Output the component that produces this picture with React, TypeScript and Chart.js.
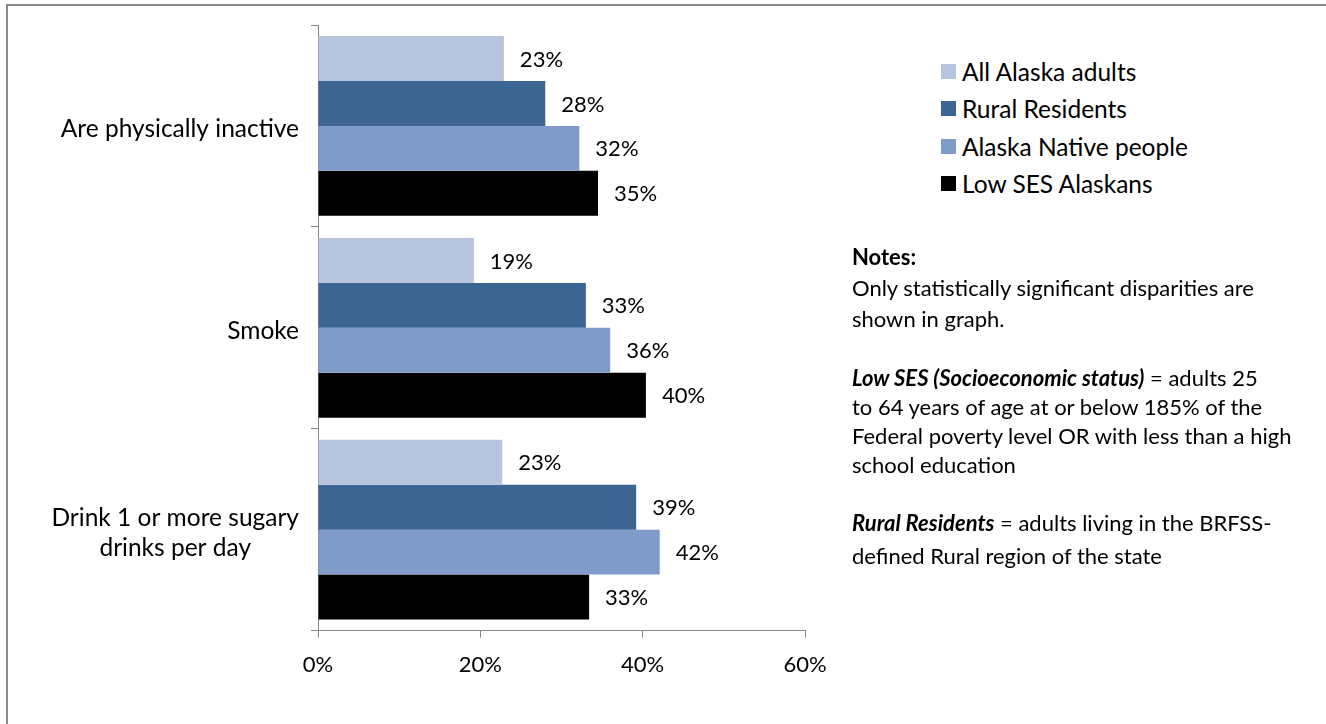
import React, { useEffect, useRef } from "react";
import { Chart, registerables } from "chart.js";

Chart.register(...registerables);

// ---------- data ----------
const categories: string[][] = [
  ["Are physically inactive"],
  ["Smoke"],
  ["Drink 1 or more sugary", "drinks per day"],
];
const seriesNames = [
  "All Alaska adults",
  "Rural Residents",
  "Alaska Native people",
  "Low SES Alaskans",
];
const allAlaskaAdults = [22.9, 19.2, 22.7];
const ruralResidents = [28.0, 33.0, 39.2];
const alaskaNative = [32.2, 36.0, 42.1];
const lowSesAlaskans = [34.5, 40.4, 33.4];
const seriesColors = ["#B7C4DF", "#3C6594", "#7F9CC8", "#000000"];
const xMin = 0;
const xMax = 60;
const xStep = 20;

type Seg = { t: string; b?: boolean; i?: boolean };
const noteLines: Seg[][] = [
  [{ t: "Notes:", b: true }],
  [{ t: "Only statistically significant disparities are" }],
  [{ t: "shown in graph." }],
  [{ t: "Low SES (Socioeconomic status)", b: true, i: true }, { t: " = adults 25" }],
  [{ t: "to 64 years of age at or below 185% of the" }],
  [{ t: "Federal poverty level OR with less than a high" }],
  [{ t: "school education" }],
  [{ t: "Rural Residents", b: true, i: true }, { t: " = adults living in the BRFSS-" }],
  [{ t: "defined Rural region of the state" }],
];

const FONT = "Lato, 'Open Sans', sans-serif";
const AXIS = "#868686";
const CAT_SIZE = 24.5;
const VAL_SIZE = 22;
const TICK_SIZE = 22;
const LEGEND_SIZE = 24.5;
const NOTE_SIZE = 22;

export default function App() {
  const canvasRef = useRef<HTMLCanvasElement | null>(null);

  useEffect(() => {
    const canvas = canvasRef.current;
    if (!canvas) return;
    const seriesData = [allAlaskaAdults, ruralResidents, alaskaNative, lowSesAlaskans];

    const valueLabels = {
      id: "valueLabels",
      afterDatasetsDraw(chart: any) {
        const ctx = chart.ctx;
        ctx.save();
        ctx.font = `${VAL_SIZE}px ${FONT}`;
        ctx.fillStyle = "#000";
        ctx.textAlign = "left";
        ctx.textBaseline = "middle";
        chart.data.datasets.forEach((ds: any, di: number) => {
          const meta = chart.getDatasetMeta(di);
          meta.data.forEach((el: any, i: number) => {
            const v = ds.data[i];
            ctx.fillText(Math.round(v) + "%", el.x + 16, el.y + 1);
          });
        });
        ctx.restore();
      },
    };

    const categoryLabels = {
      id: "categoryLabels",
      afterDraw(chart: any) {
        const ctx = chart.ctx;
        const yScale = chart.scales.y;
        const right = chart.chartArea.left - 19;
        const lh = 30;
        ctx.save();
        ctx.font = `${CAT_SIZE}px ${FONT}`;
        ctx.fillStyle = "#000";
        ctx.textAlign = "center";
        ctx.textBaseline = "middle";
        categories.forEach((lines, i) => {
          const y = yScale.getPixelForValue(i);
          const w = Math.max(...lines.map((l) => ctx.measureText(l).width));
          const cx = right - w / 2;
          lines.forEach((l, j) => {
            ctx.fillText(l, cx, y + (j - (lines.length - 1) / 2) * lh + 3);
          });
        });
        ctx.restore();
      },
    };

    const chart = new Chart(canvas, {
      type: "bar",
      data: {
        labels: categories.map((c) => c.join(" ")),
        datasets: seriesNames.map((name, i) => ({
          label: name,
          data: seriesData[i],
          backgroundColor: seriesColors[i],
          borderWidth: 0,
          categoryPercentage: 0.89,
          barPercentage: 1.0,
        })),
      },
      options: {
        indexAxis: "y",
        animation: false,
        responsive: false,
        maintainAspectRatio: false,
        layout: { padding: { left: 311, right: 95, top: 25, bottom: 32 } },
        plugins: {
          legend: { display: false },
          tooltip: { enabled: false },
        },
        scales: {
          x: {
            min: xMin,
            max: xMax,
            ticks: {
              stepSize: xStep,
              callback: (v: any) => v + "%",
              font: { family: FONT, size: TICK_SIZE },
              color: "#000",
              padding: 14,
            },
            grid: { drawOnChartArea: false, color: AXIS, tickLength: 7 },
            border: { color: AXIS, width: 1 },
          },
          y: {
            ticks: { display: false },
            grid: { drawOnChartArea: false, color: AXIS, tickLength: 7, offset: true },
            border: { color: AXIS, width: 1 },
          },
        },
      },
      plugins: [valueLabels, categoryLabels],
    } as any);
    return () => chart.destroy();
  }, []);

  const legendTops = [64, 101, 138.5, 176];
  const noteCenters = [257, 288, 319, 378, 407, 436, 465, 523, 556];

  return (
    <div
      style={{
        position: "absolute",
        left: 0,
        top: 0,
        width: 1326,
        height: 724,
        overflow: "hidden",
        background: "#fff",
        fontFamily: FONT,
        color: "#000",
      }}
    >
      <div
        style={{
          position: "absolute",
          left: 6,
          top: 4,
          width: 1400,
          height: 800,
          border: "2px solid #8a8a8a",
          boxSizing: "border-box",
        }}
      />
      <canvas
        ref={canvasRef}
        width={900}
        height={724}
        style={{ position: "absolute", left: 0, top: 0, width: 900, height: 724 }}
      />
      {seriesNames.map((name, i) => (
        <div
          key={name}
          style={{
            position: "absolute",
            left: 941,
            top: legendTops[i] - 8,
            height: 31,
            display: "flex",
            alignItems: "center",
            fontSize: LEGEND_SIZE,
            whiteSpace: "nowrap",
          }}
        >
          <span
            style={{
              display: "inline-block",
              width: 15,
              height: 15,
              background: seriesColors[i],
              marginRight: 6,
            }}
          />
          <span>{name}</span>
        </div>
      ))}
      {noteLines.map((segs, i) => (
        <div
          key={i}
          style={{
            position: "absolute",
            left: 852,
            top: noteCenters[i] - 15,
            height: 30,
            lineHeight: "30px",
            fontSize: NOTE_SIZE,
            whiteSpace: "nowrap",
          }}
        >
          {segs.map((s, j) => (
            <span
              key={j}
              style={{ fontWeight: s.b ? 700 : 400, fontStyle: s.i ? "italic" : "normal" }}
            >
              {s.t}
            </span>
          ))}
        </div>
      ))}
    </div>
  );
}
